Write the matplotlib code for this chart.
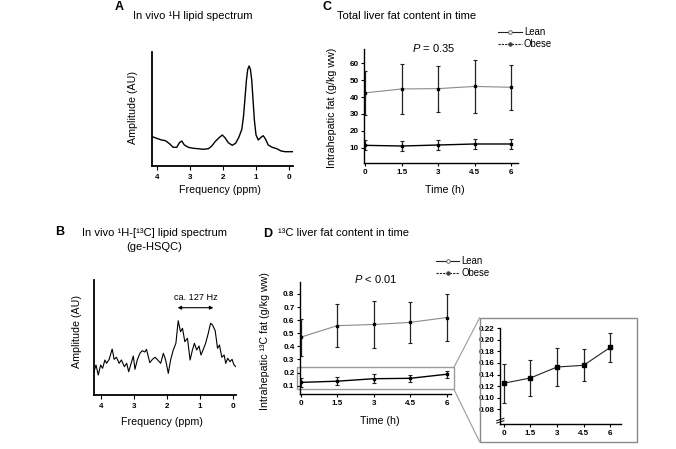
import matplotlib
matplotlib.use("Agg")
import matplotlib.pyplot as plt
from matplotlib.patches import Rectangle, ConnectionPatch
from matplotlib.lines import Line2D

plt.rcParams['font.family'] = ['Liberation Sans', 'DejaVu Sans']
plt.rcParams['mathtext.fontset'] = 'custom'
plt.rcParams['mathtext.rm'] = 'Liberation Sans'
plt.rcParams['mathtext.it'] = 'Liberation Sans:italic'

# ---- data ----
# A: 1H lipid spectrum (ppm, amplitude AU)
a_ppm = [4.14, 4.01, 3.86, 3.74, 3.61, 3.51, 3.40, 3.32, 3.25, 3.17, 3.05, 2.90,
         2.75, 2.60, 2.44, 2.34, 2.24, 2.12, 2.02, 1.94, 1.84, 1.72, 1.62, 1.52,
         1.43, 1.38, 1.33, 1.29, 1.25, 1.21, 1.17, 1.13, 1.09, 1.05, 1.00, 0.93,
         0.85, 0.78, 0.71, 0.63, 0.51, 0.37, 0.24, 0.12, -0.13]
a_amp = [29.3, 27.7, 26.0, 25.3, 22.0, 18.7, 18.7, 23.3, 25.0, 21.0, 18.7, 17.7,
         17.3, 16.7, 17.3, 20.0, 24.3, 28.3, 31.0, 28.3, 23.3, 20.7, 22.7, 28.7,
         36.7, 49.3, 69.3, 86.0, 96.7, 100.0, 96.7, 86.0, 66.0, 46.0, 31.0, 26.0,
         28.7, 30.3, 26.7, 21.0, 18.7, 17.3, 15.0, 14.3, 14.3]

# B: 1H-[13C] lipid spectrum (ge-HSQC)
b_ppm = [4.20, 4.14, 4.07, 4.00, 3.94, 3.87, 3.82, 3.74, 3.65, 3.59, 3.52, 3.44,
         3.37, 3.28, 3.21, 3.15, 3.09, 3.01, 2.96, 2.89, 2.81, 2.74, 2.66, 2.61,
         2.51, 2.43, 2.35, 2.27, 2.18, 2.10, 2.03, 1.95, 1.88, 1.80, 1.72, 1.65,
         1.58, 1.52, 1.45, 1.37, 1.29, 1.22, 1.16, 1.09, 1.02, 0.96, 0.89, 0.82,
         0.74, 0.67, 0.61, 0.53, 0.46, 0.40, 0.33, 0.26, 0.21, 0.15, 0.08, 0.02,
         -0.04, -0.10]
b_amp = [23.3, 30.0, 20.0, 30.0, 26.7, 35.0, 31.7, 35.7, 46.0, 35.7, 37.7, 31.7,
         35.0, 28.3, 31.7, 23.3, 30.0, 39.0, 25.7, 35.0, 41.7, 44.3, 43.0, 45.7,
         32.3, 35.7, 37.7, 35.0, 31.7, 41.7, 35.0, 21.7, 35.0, 45.0, 51.7, 74.3,
         63.3, 66.7, 53.3, 56.7, 35.0, 45.0, 51.7, 45.0, 49.0, 40.0, 45.7, 51.7,
         61.7, 71.7, 70.0, 64.3, 46.7, 50.0, 37.7, 40.0, 31.7, 36.7, 33.3, 35.7,
         30.0, 28.3]

# C / D: liver fat over time
time_h = [0, 1.5, 3, 4.5, 6]
time_labels = ['0', '1.5', '3', '4.5', '6']

c_obese_mean = [42.5, 44.8, 45.0, 46.3, 45.8]
c_obese_sd = [13.0, 15.0, 13.7, 15.8, 13.3]
c_lean_mean = [11.4, 11.0, 11.6, 12.2, 12.2]
c_lean_sd = [3.0, 3.0, 3.0, 2.9, 2.8]

d_obese_mean = [0.470, 0.558, 0.567, 0.583, 0.620]
d_obese_sd = [0.141, 0.162, 0.183, 0.158, 0.177]
d_lean_mean = [0.125, 0.134, 0.153, 0.156, 0.187]
d_lean_sd = [0.034, 0.031, 0.033, 0.028, 0.025]

c_yticks = [10, 20, 30, 40, 50, 60]
d_yticks = [0.1, 0.2, 0.3, 0.4, 0.5, 0.6, 0.7, 0.8]
inset_yticks = [0.08, 0.10, 0.12, 0.14, 0.16, 0.18, 0.20, 0.22]
ppm_ticks = [4, 3, 2, 1, 0]

# ---- layout helpers (pixel coords, origin top-left) ----
W, H = 676, 449
fig = plt.figure(figsize=(W / 100, H / 100), dpi=100)


def px_axes(left, top, right, bottom):
    return fig.add_axes([left / W, 1 - bottom / H, (right - left) / W, (bottom - top) / H])


def ftext(x, y, s, **kw):
    kw.setdefault('va', 'center')
    fig.text(x / W, 1 - y / H, s, **kw)


TICK_FS = 5.8
LAB_FS = 7.7
TITLE_FS = 8.0


def style_axes(ax, yticks_on=True):
    for sp in ['top', 'right']:
        ax.spines[sp].set_visible(False)
    for sp in ['left', 'bottom']:
        ax.spines[sp].set_linewidth(1.0)
    ax.tick_params(direction='out', length=2.5, width=0.8, pad=1.5, labelsize=TICK_FS)
    for lab in ax.get_xticklabels() + ax.get_yticklabels():
        lab.set_fontweight('bold')
    if not yticks_on:
        ax.set_yticks([])


def spectrum(ax, ppm, amp, ylim, lw):
    ax.plot(ppm, amp, color='black', lw=lw)
    ax.set_xlim(ylim[0])
    ax.set_ylim(ylim[1])
    ax.set_xticks(ppm_ticks)
    ax.set_xticklabels([str(t) for t in ppm_ticks])
    style_axes(ax, yticks_on=False)
    ax.spines['left'].set_linewidth(1.3)
    ax.spines['bottom'].set_linewidth(1.3)
    ax.tick_params(axis='x', length=3, pad=2.5)


def timecourse(ax, hi_m, hi_sd, lo_m, lo_sd, xlim, ylim, yticks, yfmt):
    ax.plot(time_h, hi_m, color='#8a8a8a', lw=0.8)
    ax.plot(time_h, lo_m, color='black', lw=1.0)
    for m, sd in [(hi_m, hi_sd), (lo_m, lo_sd)]:
        ax.errorbar(time_h, m, yerr=sd, fmt='s', ms=1.8, color='black',
                    ecolor='#222222', elinewidth=0.9, capsize=1.5, capthick=0.8)
    ax.set_xlim(xlim)
    ax.set_ylim(ylim)
    ax.set_xticks(time_h)
    ax.set_xticklabels(time_labels)
    ax.set_yticks(yticks)
    ax.set_yticklabels([yfmt.format(v) for v in yticks])
    style_axes(ax)


def legend(x0, x1, y_lean, y_obese):
    xm = (x0 + x1) / 2
    for y, ls, mfc in [(y_lean, '-', 'white'), (y_obese, (0, (2, 1)), '#333333')]:
        fig.add_artist(Line2D([x0 / W, x1 / W], [1 - y / H] * 2, color='#222222',
                              lw=0.8, ls=ls))
        fig.add_artist(Line2D([xm / W], [1 - y / H], marker='o', ms=2.6,
                              mfc=mfc, mec='#555555', mew=0.6, lw=0))
    ftext(x1 + 2, y_lean, 'Lean', fontsize=6.9)
    ftext(x1 + 2, y_obese, 'Obese', fontsize=6.9)


# ---- A ----
axA = px_axes(152, 52, 293, 166)
spectrum(axA, a_ppm, a_amp, ((4.15, -0.12), (0, 114)), 1.0)
ftext(115, 7.5, 'A', fontsize=9, fontweight='bold')
ftext(132.7, 15.7, 'In vivo \u00b9H lipid spectrum', fontsize=TITLE_FS)
ftext(133, 107, 'Amplitude (AU)', fontsize=LAB_FS, rotation=90, ha='center')
ftext(220, 190, 'Frequency (ppm)', fontsize=LAB_FS, ha='center')

# ---- B ----
axB = px_axes(94, 280, 236, 395)
spectrum(axB, b_ppm, b_amp, ((4.2, -0.1), (0, 115)), 0.8)
axB.annotate('', xy=(0.585, 87.3), xytext=(1.667, 87.3),
             arrowprops=dict(arrowstyle='<|-|>', color='black', lw=0.8,
                             mutation_scale=5, shrinkA=0, shrinkB=0))
axB.text(1.12, 98, 'ca. 127 Hz', fontsize=6.6, ha='center', va='center')
ftext(55, 232, 'B', fontsize=9, fontweight='bold')
ftext(81.7, 233, 'In vivo \u00b9H-[\u00b9\u00b3C] lipid spectrum', fontsize=TITLE_FS)
ftext(154, 247, '(ge-HSQC)', fontsize=TITLE_FS, ha='center')
ftext(76.7, 332, 'Amplitude (AU)', fontsize=LAB_FS, rotation=90, ha='center')
ftext(161.7, 421.7, 'Frequency (ppm)', fontsize=LAB_FS, ha='center')

# ---- C ----
axC = px_axes(364.3, 49.3, 518.3, 163.3)
timecourse(axC, c_obese_mean, c_obese_sd, c_lean_mean, c_lean_sd,
           (-0.04, 6.3), (0.76, 68.3), c_yticks, '{:d}')
ftext(322.7, 7, 'C', fontsize=9, fontweight='bold')
ftext(337, 16, 'Total liver fat content in time', fontsize=TITLE_FS)
ftext(332, 108, 'Intrahepatic fat (g/kg ww)', fontsize=LAB_FS, rotation=90, ha='center')
ftext(445.3, 190, 'Time (h)', fontsize=LAB_FS, ha='center')
ftext(434, 47.7, r'$\it{P}$ = 0.35', fontsize=8, ha='center')
legend(498, 522, 32.3, 44.3)

# ---- D ----
axD = px_axes(300, 282.3, 451, 394.3)
timecourse(axD, d_obese_mean, d_obese_sd, d_lean_mean, d_lean_sd,
           (-0.03, 6.18), (0.034, 0.889), d_yticks, '{:.1f}')
ftext(262.7, 233.8, 'D', fontsize=9, fontweight='bold')
ftext(277.7, 233.5, '\u00b9\u00b3C liver fat content in time', fontsize=TITLE_FS)
ftext(265, 341, 'Intrahepatic \u00b9\u00b3C fat (g/kg ww)', fontsize=LAB_FS,
      rotation=90, ha='center')
ftext(380, 421, 'Time (h)', fontsize=LAB_FS, ha='center')
ftext(376, 279, r'$\it{P}$ < 0.01', fontsize=8, ha='center')
legend(436, 459.3, 260.7, 272.7)

# zoom rectangle in D and the inset frame
axD.add_patch(Rectangle((-0.16, 0.072), 6.46, 0.168, fill=False, ec='#9a9a9a',
                        lw=1.0, clip_on=False))
fig.add_artist(Rectangle((479.7 / W, 1 - 442 / H), (637.3 - 479.7) / W,
                         (442 - 317.7) / H, fill=False, ec='#8a8a8a', lw=1.0))
for (dy, fy) in [(0.24, 317.7), (0.072, 442)]:
    fig.add_artist(ConnectionPatch(xyA=(6.3, dy), coordsA=axD.transData,
                                   xyB=(479.7 / W, 1 - fy / H), coordsB='figure fraction',
                                   color='#9a9a9a', lw=0.8))

# ---- inset: lean 13C fat ----
axI = px_axes(500.3, 327.7, 621.3, 424.3)
axI.plot(time_h, d_lean_mean, color='#222222', lw=0.8)
axI.errorbar(time_h, d_lean_mean, yerr=d_lean_sd, fmt='s', ms=2.2, color='black',
             ecolor='#222222', elinewidth=0.9, capsize=1.5, capthick=0.8)
axI.set_xlim(-0.19, 6.62)
axI.set_ylim(0.054, 0.221)
axI.set_xticks(time_h)
axI.set_xticklabels(time_labels)
axI.set_yticks(inset_yticks)
axI.set_yticklabels(['{:.2f}'.format(v) for v in inset_yticks])
style_axes(axI)
for yb in (0.025, 0.05):
    axI.plot([-0.03, 0.03], [yb - 0.012, yb + 0.012], transform=axI.transAxes,
             color='black', lw=0.7, clip_on=False)

fig.savefig('out.png', dpi=100, facecolor='white')
